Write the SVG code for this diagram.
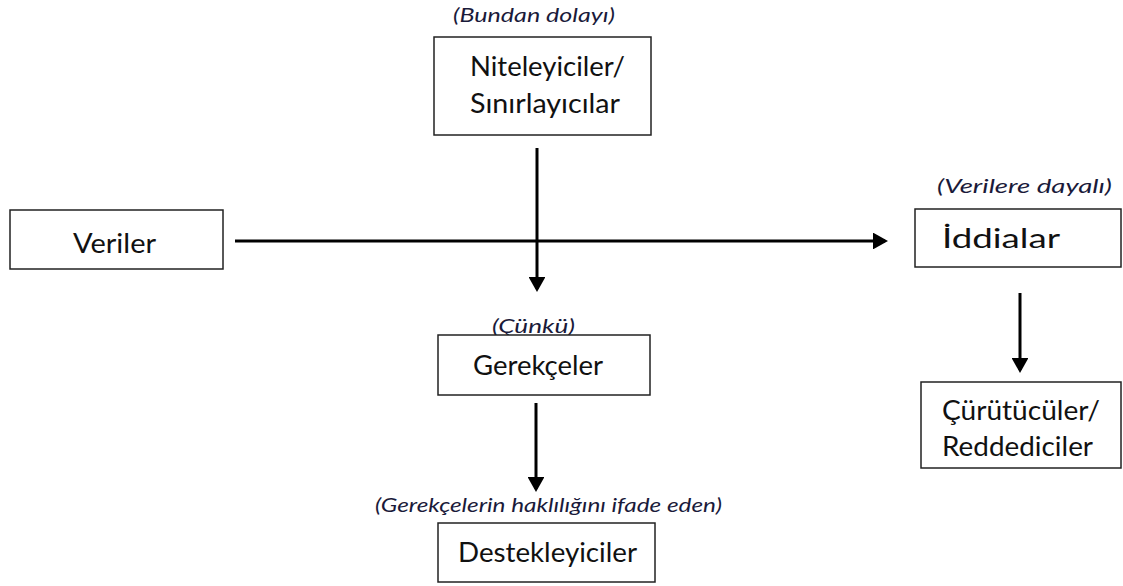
<svg xmlns="http://www.w3.org/2000/svg" width="1123" height="586" viewBox="0 0 1123 586">
<style>
.box{fill:#fff;stroke:#222;stroke-width:1.5}
.t{font-family:Lato,"Liberation Sans",sans-serif;font-size:27px;fill:#111}
.i{font-family:Lato,"Liberation Sans",sans-serif;font-size:20px;font-style:italic;fill:#1a1a3a}
.c{stroke:#000;stroke-width:3;fill:none}
</style>
<defs>
<marker id="ah" markerWidth="5" markerHeight="5.6" refX="4" refY="2.8" orient="auto" markerUnits="strokeWidth"><path d="M0,0 L5,2.8 L0,5.6 Z" fill="#000"/></marker>
</defs>
<rect width="1123" height="586" fill="#fff"/>
<g id="connectors">
<line class="c" x1="235" y1="241" x2="885" y2="241" marker-end="url(#ah)"/>
<line class="c" x1="537" y1="148" x2="537" y2="289" marker-end="url(#ah)"/>
<line class="c" x1="536" y1="403" x2="536" y2="489" marker-end="url(#ah)"/>
<line class="c" x1="1020" y1="293" x2="1020" y2="370" marker-end="url(#ah)"/>
</g>
<g id="niteleyiciler">
<text class="i" x="453" y="22" textLength="162" lengthAdjust="spacingAndGlyphs">(Bundan dolayı)</text>
<rect class="box" x="434" y="37" width="217" height="98"/>
<text class="t" x="470" y="76" textLength="155" lengthAdjust="spacingAndGlyphs">Niteleyiciler/</text>
<text class="t" x="470" y="113" textLength="150" lengthAdjust="spacingAndGlyphs">Sınırlayıcılar</text>
</g>
<g id="veriler">
<rect class="box" x="10" y="210" width="213" height="59"/>
<text class="t" x="73" y="253" textLength="83" lengthAdjust="spacingAndGlyphs">Veriler</text>
</g>
<g id="iddialar">
<text class="i" x="937" y="193" textLength="175" lengthAdjust="spacingAndGlyphs">(Verilere dayalı)</text>
<rect class="box" x="915" y="209" width="206" height="58"/>
<text class="t" x="942" y="248" textLength="118" lengthAdjust="spacingAndGlyphs">İddialar</text>
</g>
<g id="gerekceler">
<text class="i" x="492" y="333" textLength="83" lengthAdjust="spacingAndGlyphs">(Çünkü)</text>
<rect class="box" x="438" y="335" width="212" height="60"/>
<text class="t" x="473" y="375" textLength="130" lengthAdjust="spacingAndGlyphs">Gerekçeler</text>
</g>
<g id="destekleyiciler">
<text class="i" x="375" y="512" textLength="347" lengthAdjust="spacingAndGlyphs">(Gerekçelerin haklılığını ifade eden)</text>
<rect class="box" x="438" y="523" width="217" height="59"/>
<text class="t" x="458" y="562" textLength="179" lengthAdjust="spacingAndGlyphs">Destekleyiciler</text>
</g>
<g id="curutuculer">
<rect class="box" x="921" y="382" width="200" height="86"/>
<text class="t" x="942" y="420" textLength="158" lengthAdjust="spacingAndGlyphs">Çürütücüler/</text>
<text class="t" x="942" y="456" textLength="151" lengthAdjust="spacingAndGlyphs">Reddediciler</text>
</g>
</svg>
